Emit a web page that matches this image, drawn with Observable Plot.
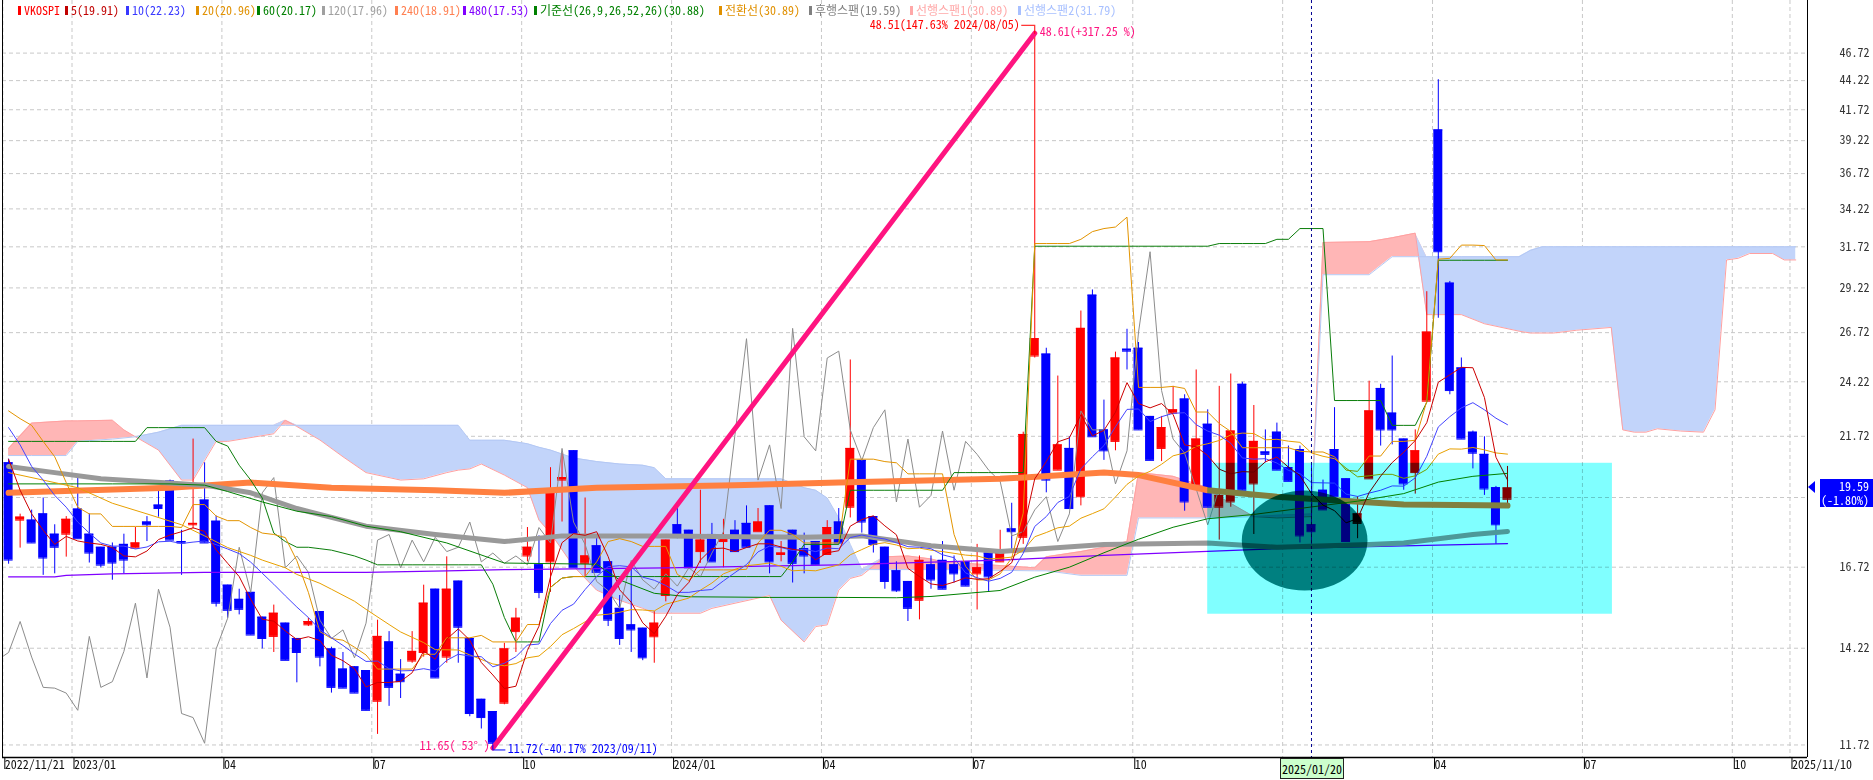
<!DOCTYPE html>
<html><head><meta charset="utf-8">
<script src="https://cdn.jsdelivr.net/npm/d3@7"></script>
<script src="https://cdn.jsdelivr.net/npm/@observablehq/plot@0.6"></script>
<style>
html,body{margin:0;padding:0;background:#fff;}
#wrap{position:relative;width:1873px;height:780px;overflow:hidden;background:#fff;}
#wrap svg{position:absolute;left:0;top:0;}
.nf{font-family:"Noto Sans Mono CJK KR","DejaVu Sans Mono",monospace;}
.lg{position:absolute;top:2px;font-size:12px;line-height:16px;white-space:nowrap;}
.lg i{display:inline-block;width:3px;height:9px;margin-right:3px;vertical-align:0px;}
.box{position:absolute;font-size:12px;line-height:13px;}
</style></head><body><div id="wrap"></div>
<script>
// ---------------- DATA (weekly VKOSPI) ----------------
const startDate = "2022-11-21";   // first weekly candle
const open = [20.6,18.37,18.37,18.6,17.86,17.86,18.78,17.86,17.4,17.4,
17.5,17.37,18.3,18.93,19.86,17.6,18.2,19.12,18.33,16.13,
15.68,15.9,15.13,14.56,14.95,14.5,14.9,15.3,14.2,13.64,
13.7,13.6,12.79,14.4,13.5,13.86,14.1,16.0,13.97,16.26,
14.5,12.84,12.53,12.74,14.7,17.1,16.8,16.9,19.9,21.1,
16.85,17.45,16.9,15.4,14.9,14.8,14.55,15.8,18.2,18.0,
17.25,17.85,17.6,18.0,18.25,17.95,18.9,17.15,18.0,17.35,
17.6,17.15,18.3,18.85,20.7,18.5,17.4,16.6,16.25,15.65,
16.8,16.95,16.8,16.9,16.5,17.2,16.9,18.05,17.75,25.5,
25.6,20.3,21.2,19.25,28.8,22.0,21.5,25.85,25.9,22.6,
21.2,22.75,23.4,19.7,22.25,18.85,19.05,24.1,19.75,21.05,
21.9,20.4,21.15,18.2,19.5,21.15,19.95,18.25,19.95,23.9,
22.75,21.6,20.2,23.3,40.07,29.5,24.9,21.9,20.95,19.6,
19.15];
const high = [20.75,18.59,18.74,19.2,18.2,18.5,19.98,18.6,17.4,17.55,
17.86,18.1,18.5,19.6,19.9,18.0,21.6,20.6,18.52,16.13,
16.0,15.9,15.13,15.5,14.95,14.5,15.1,15.3,14.25,14.1,
13.7,13.6,15.04,14.7,13.9,14.7,16.13,16.0,17.07,16.26,
14.5,12.84,12.53,14.36,15.4,18.1,17.8,20.4,21.0,21.1,
19.2,17.8,16.9,15.8,16.8,14.8,15.3,17.65,18.8,18.0,
19.5,18.25,18.4,18.35,18.9,18.8,18.9,17.6,18.0,17.9,
17.6,18.35,18.8,25.3,20.7,18.5,17.4,16.9,16.25,17.1,
17.1,17.6,17.1,16.9,17.5,17.2,18.0,19.0,21.9,48.51,
25.9,24.5,21.7,27.9,29.1,23.35,25.7,26.9,26.2,22.6,
22.6,24.0,23.6,24.8,22.9,24.0,24.6,24.2,23.1,22.0,
22.3,21.3,21.3,20.5,19.9,23.0,19.95,19.25,24.25,24.1,
25.5,21.6,22.0,29.0,44.3,29.6,25.4,21.95,21.7,19.65,
20.45];
const low = [16.82,17.37,17.55,16.45,16.5,17.06,17.7,16.86,16.7,16.29,
16.5,17.37,17.6,18.48,17.65,16.45,18.05,17.55,15.44,15.1,
15.2,14.6,14.2,14.1,13.88,13.27,14.85,13.7,13.0,13.13,
13.0,12.55,11.97,12.66,12.86,13.8,13.97,13.4,13.8,13.8,
12.4,12.1,11.72,12.7,14.1,16.9,15.7,15.9,18.3,16.7,
16.4,16.55,14.85,14.3,14.1,13.87,13.8,15.6,17.7,16.7,
16.85,16.9,16.7,17.25,17.4,17.95,16.5,16.9,16.2,16.5,
16.8,17.15,17.55,18.45,17.9,17.2,16.0,15.9,15.0,15.05,
16.0,16.0,16.2,16.1,15.35,15.9,16.9,17.3,17.5,25.4,
19.4,20.3,18.8,18.9,21.7,20.7,21.1,24.8,22.0,20.7,
20.65,22.75,18.7,19.7,18.85,17.65,18.85,19.5,17.85,20.6,
20.3,19.85,17.55,17.5,18.75,19.25,17.6,17.7,19.95,21.3,
21.35,19.5,19.35,23.3,27.5,23.6,21.6,20.35,19.3,17.5,
18.9];
const close = [16.96,18.48,17.55,17.03,17.4,18.4,17.7,17.2,16.79,16.86,
16.96,17.55,18.2,18.8,17.65,17.55,18.25,17.55,15.56,15.34,
15.37,14.6,14.5,15.25,13.88,14.1,15.0,13.97,13.15,13.13,
13.0,12.56,14.56,13.15,13.3,14.13,15.56,13.4,16.0,14.83,
12.48,12.38,11.76,14.2,15.1,17.4,15.9,19.4,20.0,16.7,
17.1,16.55,15.04,14.5,14.75,13.95,14.95,17.65,17.85,16.7,
17.65,16.9,17.75,17.25,17.4,18.3,16.9,17.2,16.85,17.1,
16.8,18.1,17.55,21.2,18.3,17.5,16.25,15.95,15.4,16.95,
16.3,16.0,16.5,16.1,16.7,16.4,17.2,17.95,21.8,26.4,
19.9,21.35,18.8,26.95,21.7,21.1,25.4,25.75,22.0,20.7,
22.1,22.9,19.05,21.6,18.85,19.3,21.95,19.5,21.5,20.95,
20.3,19.85,17.8,17.95,18.75,19.25,17.6,18.6,22.85,22.0,
22.0,19.75,21.1,26.75,31.41,23.8,21.6,21.0,19.55,18.2,
19.59];

// moving averages, one value per week
const ma5 = [20.75,19.5,18.6,18.0,17.5,17.78,17.62,17.55,17.5,17.39,
17.1,17.07,17.27,17.67,17.83,17.95,18.09,17.96,17.31,16.85,
16.41,15.68,15.07,15.01,14.72,14.47,14.55,14.44,14.02,13.87,
13.65,13.16,13.28,13.28,13.31,13.54,14.14,13.91,14.48,14.78,
14.45,13.82,13.48,13.12,13.18,14.16,14.86,16.4,17.56,17.88,
17.82,17.95,17.08,15.98,15.59,14.96,14.64,15.16,15.83,16.22,
16.96,17.35,17.37,17.25,17.39,17.52,17.52,17.41,17.33,17.27,
16.97,17.21,17.28,18.15,18.39,18.53,18.16,17.84,16.68,16.41,
16.17,16.12,16.23,16.37,16.32,16.34,16.58,16.87,18.01,19.95,
20.65,21.48,21.65,22.68,21.74,21.98,22.79,24.18,23.19,22.99,
23.19,22.69,21.35,21.27,20.9,20.34,20.15,20.24,20.22,20.64,
20.84,20.42,20.08,19.37,18.93,18.72,18.27,18.43,19.41,20.06,
20.61,21.04,21.54,22.32,24.2,24.56,24.93,24.91,23.47,20.83,
19.91];
const ma10 = [22.1,21.35,20.45,19.9,19.3,18.85,18.3,17.9,17.55,17.44,
17.44,17.34,17.41,17.59,17.61,17.53,17.58,17.62,17.49,17.34,
17.18,16.89,16.52,16.16,15.79,15.44,15.12,14.76,14.52,14.3,
14.06,13.85,13.86,13.65,13.59,13.6,13.65,13.59,13.88,14.05,
14.0,13.98,13.7,13.8,13.98,14.31,14.34,14.94,15.34,15.53,
15.99,16.41,16.74,16.77,16.73,16.39,16.29,16.12,15.9,15.9,
15.96,15.99,16.27,16.54,16.81,17.24,17.44,17.39,17.29,17.33,
17.25,17.37,17.35,17.74,17.83,17.75,17.69,17.56,17.42,17.4,
17.35,17.14,17.04,16.53,16.37,16.26,16.35,16.55,17.19,18.14,
18.5,19.03,19.26,20.35,20.85,21.32,22.14,22.92,22.94,22.37,
22.59,22.74,22.77,22.23,21.95,21.77,21.42,20.8,20.75,20.77,
20.59,20.29,20.16,19.8,19.79,19.78,19.35,19.26,19.39,19.5,
19.67,19.66,19.99,20.87,22.13,22.59,22.99,23.23,22.9,22.52,
22.23];
// [week index, value] readings
const ma20 = [[0,20.2],[3,19.9],[6,19.6],[9,19.0],[12,18.6],[15,18.2],[17,17.8],[19,17.39],[21,17.12],[22,16.96],[24,16.7],[25,16.48],[27,16.19],[28,16.0],[30,15.62],[31,15.37],[33,14.91],[34,14.69],[36,14.38],[37,14.18],[39,14.17],[40,14.03],[42,13.78],[43,13.73],[44,13.79],[45,13.95],[46,14.0],[47,14.27],[48,14.61],[49,14.79],[50,14.99],[51,15.19],[52,15.22],[53,15.28],[54,15.36],[55,15.35],[56,15.32],[57,15.53],[58,15.62],[59,15.72],[60,15.97],[61,16.2],[62,16.5],[63,16.65],[64,16.77],[65,16.81],[66,16.86],[67,16.75],[68,16.6],[69,16.62],[70,16.6],[72,16.8],[73,17.14],[74,17.32],[75,17.5],[76,17.56],[77,17.48],[78,17.35],[79,17.37],[80,17.3],[81,17.25],[82,17.19],[83,17.13],[84,17.1],[85,17.0],[86,17.02],[87,17.06],[88,17.3],[89,17.77],[90,17.92],[91,18.09],[92,18.15],[93,18.44],[94,18.61],[95,18.79],[96,19.24],[97,19.73],[98,20.06],[99,20.25],[100,20.54],[101,20.89],[102,21.01],[103,21.29],[104,21.4],[105,21.54],[106,21.78],[107,21.86],[108,21.84],[109,21.57],[110,21.59],[111,21.51],[112,21.46],[113,21.01],[114,20.87],[115,20.77],[116,20.38],[117,20.03],[118,20.07],[119,20.13],[120,20.13],[121,19.97],[122,20.07],[123,20.33],[124,20.96],[125,21.18],[126,21.17],[127,21.24],[128,21.14],[129,21.01],[130,20.96]];
const ma60 = [[0,19.75],[9,19.75],[14,19.75],[17,19.7],[19,19.45],[22,19.05],[25,18.7],[28,18.5],[31,18.15],[34,17.95],[38,17.55],[43,16.86],[51,16.82],[53,16.3],[56,15.87],[59,15.76],[63,15.75],[66,15.74],[72,15.74],[77,15.73],[80,15.77],[86,15.96],[89,16.39],[92,16.72],[95,17.21],[98,17.68],[101,18.11],[104,18.42],[108,18.58],[113,18.86],[117,19.08],[121,19.37],[124,19.82],[127,20.05],[130,20.17]];
const ma120 = [[0,20.45],[4,20.2],[8,19.95],[17,19.7],[21,19.4],[25,18.8],[31,18.15],[37,17.85],[43,17.6],[48,17.8],[57,17.8],[69,17.75],[74,17.8],[80,17.45],[86,17.25],[95,17.5],[104,17.55],[110,17.4],[118,17.5],[121,17.55],[124,17.7],[127,17.85],[130,17.96]];
const ma240 = [[0,19.4],[14,19.6],[21,19.8],[28,19.6],[37,19.5],[43,19.4],[51,19.6],[63,19.7],[72,19.8],[86,19.95],[95,20.2],[98,20.1],[104,19.5],[110,19.25],[121,18.95],[130,18.91]];
const ma480 = [[0,16.4],[4,16.4],[5,16.45],[9,16.5],[17,16.55],[31,16.55],[38,16.6],[43,16.64],[57,16.7],[72,16.8],[86,16.96],[95,17.12],[110,17.35],[121,17.45],[130,17.53]];
// Ichimoku: 기준선 (base line) and 전환선 (conversion line), one value per week
const kijun = [21.5,21.5,21.5,21.5,21.5,21.5,21.5,21.5,21.5,21.5,
21.5,21.5,22.1,22.1,22.1,22.1,22.1,22.1,21.5,21.3,
20.5,19.9,19.2,17.9,17.6,17.4,17.4,17.35,17.3,17.2,
17.1,16.96,16.8,16.8,16.8,16.8,16.8,16.8,16.8,16.8,
16.8,16.8,16.16,15.12,14.4,14.4,14.4,16.06,16.36,16.41,
16.41,16.41,16.41,16.41,16.41,16.41,16.41,16.41,16.41,16.41,
16.41,16.41,16.41,16.41,16.41,16.41,16.41,16.41,16.9,17.5,
17.5,17.5,17.5,19.5,19.5,19.5,19.5,19.5,19.5,19.5,
19.5,19.5,20.2,20.2,20.2,20.2,20.2,20.2,20.2,31.76,
31.76,31.76,31.76,31.76,31.76,31.76,31.76,31.76,31.76,31.76,
31.76,31.76,31.76,31.76,31.76,31.93,31.93,31.93,31.93,31.93,
32.2,32.2,32.9,32.9,32.9,23.33,23.33,23.33,23.33,23.33,
22.2,22.2,22.2,23.25,30.88,30.88,30.88,30.88,30.88,30.88,
30.88];
const tenkan = [22.85,22.5,22.2,21.5,20.85,19.8,18.85,18.6,18.6,18.14,
18.14,18.14,18.14,18.14,18.14,18.1,18.95,18.95,18.52,18.35,
18.35,18.1,17.9,17.85,17.74,16.94,15.9,14.7,14.5,14.45,
14.25,14.03,13.64,13.64,13.64,13.64,14.05,14.05,14.52,14.52,
14.52,14.59,14.4,14.4,14.4,14.91,14.91,16.06,16.36,16.41,
16.41,16.9,17.6,17.7,17.6,17.43,17.43,17.43,16.48,16.28,
16.63,16.63,16.63,16.63,16.65,17.55,18.0,18.0,17.85,17.55,
17.55,17.55,17.55,20.75,20.75,20.75,20.65,20.6,20.15,20.15,
20.15,20.15,17.85,16.75,16.3,16.3,16.5,17.03,18.63,31.93,
31.93,31.93,31.93,32.2,32.7,32.9,33.0,33.66,23.95,23.95,
23.95,24.0,23.9,22.8,22.8,22.28,21.93,21.23,21.23,21.23,
21.23,21.23,21.08,21.05,21.05,20.85,20.3,20.25,20.88,20.88,
21.5,21.5,21.55,23.3,30.95,31.0,31.83,31.83,31.8,30.9,
30.9];
const laggingShift = 25;   // 후행스팬 is the close drawn this many weeks back
// cloud: [week index, 선행스팬1, 선행스팬2]
const cloud = [[0,21.2,20.9],[2,22.3,20.9],[5,22.4,20.9],[6,22.4,21.5],[9,22.43,21.6],[10,22.0,21.65],[11,21.7,21.7],[13,21.13,21.9],[15,19.9,22.2],[16,19.9,22.2],[18,21.5,22.2],[19,21.5,22.2],[23,21.83,22.2],[24,22.43,22.2],[25,22.15,22.2],[27,21.56,22.2],[29,20.85,22.2],[31,20.2,22.2],[34,19.9,22.2],[36,19.95,22.2],[38,20.2,22.2],[39,20.3,22.2],[40,20.35,21.55],[41,20.55,21.55],[43,20.1,21.55],[45,19.6,21.4],[46,18.37,21.25],[47,17.9,21.13],[49,16.75,20.8],[51,15.97,20.65],[53,15.65,20.55],[55,15.4,20.5],[56,15.25,20.4],[57,15.25,19.95],[60,15.25,19.95],[61,15.4,19.95],[66,15.8,19.95],[67,15.04,19.95],[69,14.4,19.6],[70,14.85,19.5],[71,14.9,19.2],[72,15.97,18.45],[73,16.35,17.5],[74,16.45,16.64],[76,17.07,16.64],[78,17.1,16.64],[80,17.0,16.64],[81,16.9,16.64],[89,16.7,16.6],[90,17.07,16.6],[93,17.25,16.45],[95,17.4,16.45],[97,17.6,16.45],[98,20.2,18.45],[101,20.05,18.45],[104,19.6,18.45],[105,19.25,18.45],[108,18.5,18.5],[110,18.45,18.55],[113,18.5,18.6],[114,32.0,30.0],[118,32.05,30.0],[120,32.3,31.1],[122,32.6,31.1],[123,27.7,31.1],[126,27.7,31.1],[128,27.2,31.1],[131,26.8,31.1],[132,26.7,31.5],[133,26.7,31.72],[134,26.7,31.72],[136,26.85,31.72],[139,27.0,31.72],[140,22.0,31.72],[141,21.9,31.72],[142,21.9,31.72],[143,22.05,31.72],[145,21.95,31.72],[147,21.9,31.72],[148,22.9,31.72],[149,30.9,31.72],[150,31.0,31.72],[151,31.3,31.72],[153,31.3,31.72],[154,30.9,31.72],[155,30.9,31.72]];
// drawn annotations
const trendLine = [[42,11.65],[89,48.61]];
const highMark = {i: 89, v: 48.51};
const lowMark = {i: 42, v: 11.72};
const highLabel = "48.51(147.63% 2024/08/05)";
const trendTopLabel = "48.61(+317.25 %)";
const trendBottomLabel = "11.65( 53° )";
const lowLabel = "11.72(-40.17% 2023/09/11)";
const highlightBox = {i1: 104.0, i2: 139.1, v1: 15.22, v2: 20.58};
const ellipseBox = {i1: 107.0, i2: 117.9, v1: 15.94, v2: 19.47};
const crosshairWeek = 113;
const crosshairLabel = "2025/01/20";
const lastPrice = 19.59, lastChange = "(-1.80%)";
// axes (19.22 and 2025/01 are hidden behind the price / date boxes)
const yTicks = [11.72,14.22,16.72,19.22,21.72,24.22,26.72,29.22,31.72,34.22,36.72,39.22,41.72,44.22,46.72];
const yHidden = [19.22];
const xTickWeeks = [0,6,19,32,45,58,71,84,98,111,124,137,150,155];
const xTickLabels = ["2022/11/21","2023/01","04","07","10","2024/01","04","07","10","","04","07","10","2025/11/10"];
// legend
const legendLabels = ["VKOSPI","5(19.91)","10(22.23)","20(20.96)","60(20.17)","120(17.96)","240(18.91)","480(17.53)","기준선(26,9,26,52,26)(30.88)","전환선(30.89)","후행스팬(19.59)","선행스팬1(30.89)","선행스팬2(31.79)"];
const legendColors = ["#FF0000","#C00000","#3838FF","#E09000","#008000","#A0A0A0","#FF7F50","#8000FF","#008000","#E09000","#808080","#FFA8A8","#A8C0FF"];

// ---------------- LAYOUT ----------------
const W = 1873, H = 780, ML = 2, MR = 66, MT = 0, MB = 23;
const WEEK = 7 * 864e5;
const base = Date.parse(startDate + "T00:00:00Z");
const wd = i => new Date(base + i * WEEK);
const FONT = '"Noto Sans Mono CJK KR","DejaVu Sans Mono",monospace';

const candles = close.map((c, i) => ({date: wd(i), i, o: open[i], h: high[i], l: low[i], c}));
const colorOf = d => d.c >= d.o ? "#FF0000" : "#0000FF";
const half = 0.39;
const pairs = a => a.map(([i, v]) => ({date: wd(i), v}));
const series = a => a.map((v, i) => ({date: wd(i), v}));
const lagging = close.map((v, i) => ({date: wd(i - laggingShift), v}));
const cloudRows = cloud.map(([i, s1, s2]) => ({date: wd(i), s1, s2, top: Math.max(s1, s2)}));

const tickDates = xTickWeeks.map(i => wd(i - 0.5));
const tickLabelOf = new Map(tickDates.map((d, k) => [+d, xTickLabels[k]]));
const xDomain = [wd(-0.529), wd(156.02)];
const yDomain = [11.43, 51.9];

const line = (data, stroke, strokeWidth = 1) => Plot.line(data, {x: "date", y: "v", stroke, strokeWidth, clip: true});

const chart = Plot.plot({
  width: W, height: H, marginLeft: ML, marginRight: MR, marginTop: MT, marginBottom: MB,
  x: {type: "utc", domain: xDomain},
  y: {type: "log", domain: yDomain},
  color: {type: "identity"},
  style: {fontFamily: FONT, fontSize: "12px", background: "transparent", overflow: "visible"},
  marks: [
    Plot.gridY(yTicks, {stroke: "#c8c8c8", strokeOpacity: 1, strokeDasharray: "4,3"}),
    Plot.gridX(tickDates, {stroke: "#c8c8c8", strokeOpacity: 1, strokeDasharray: "4,3"}),
    // cloud
    Plot.areaY(cloudRows, {x: "date", y1: "s2", y2: "top", fill: "#FFB6B6", clip: true}),
    Plot.areaY(cloudRows, {x: "date", y1: "s1", y2: "top", fill: "#C2D4FA", clip: true}),
    Plot.line(cloudRows, {x: "date", y: "s1", stroke: "#FFA0A0", strokeWidth: 1, clip: true}),
    Plot.line(cloudRows, {x: "date", y: "s2", stroke: "#B4C8F4", strokeWidth: 1, clip: true}),
    // candles
    Plot.ruleX(candles, {x: "date", y1: "l", y2: "h", stroke: colorOf, strokeWidth: 1}),
    Plot.rect(candles, {x1: d => new Date(+d.date - half * WEEK), x2: d => new Date(+d.date + half * WEEK), y1: "o", y2: "c", fill: colorOf}),
    Plot.ruleY(candles, {y: "o", x1: d => new Date(+d.date - half * WEEK), x2: d => new Date(+d.date + half * WEEK), stroke: colorOf}),
    Plot.ruleY(candles, {y: "c", x1: d => new Date(+d.date - half * WEEK), x2: d => new Date(+d.date + half * WEEK), stroke: colorOf}),
    // indicator lines
    line(lagging, "#8C8C8C", 1),
    line(pairs(ma480), "#8000FF", 1.3),
    line(pairs(ma240), "#FF8040", 6),
    line(pairs(ma120), "#999999", 5),
    line(pairs(ma60), "#008000", 1),
    line(series(kijun), "#0A7D0A", 1),
    line(pairs(ma20), "#E8A000", 1),
    line(series(tenkan), "#E39400", 1),
    line(series(ma10), "#4444FF", 1),
    line(series(ma5), "#CC0000", 1),
    // trend line
    Plot.line(trendLine, {x: d => wd(d[0]), y: d => d[1], stroke: "#FF1480", strokeWidth: 5}),
    // highlight rect (multiply)
    Plot.rect([highlightBox], {x1: d => wd(d.i1), x2: d => wd(d.i2), y1: "v1", y2: "v2", fill: "#80FFFF", mixBlendMode: "multiply", ariaLabel: "hlbox"}),
    // crosshair
    Plot.ruleX([wd(crosshairWeek)], {stroke: "#000090", strokeDasharray: "3,3", strokeWidth: 1, ariaLabel: "crosshair"}),
    // annotations
    Plot.ruleX([highMark], {x: d => wd(d.i), y1: "v", y2: "v", insetTop: -9, stroke: "#FF0000"}),
    Plot.ruleY([highMark], {y: "v", x1: d => wd(d.i), x2: d => wd(d.i), insetLeft: -13, dy: -9, stroke: "#FF0000"}),
    Plot.text([highMark], {x: d => wd(d.i), y: "v", text: () => highLabel, textAnchor: "end", dx: -15, dy: -9, fill: "#FF0000", fontSize: 12}),
    Plot.text([trendLine[1]], {x: d => wd(d[0]), y: d => d[1], text: () => trendTopLabel, textAnchor: "start", dx: 5, dy: -1, fill: "#FF1480", fontSize: 12}),
    Plot.text([trendLine[0]], {x: d => wd(d[0]), y: d => d[1], text: () => trendBottomLabel, textAnchor: "end", dx: -3, dy: -2, fill: "#FF1480", fontSize: 12}),
    Plot.ruleX([lowMark], {x: d => wd(d.i), y1: "v", y2: "v", insetBottom: -5, stroke: "#0000FF"}),
    Plot.ruleY([lowMark], {y: "v", x1: d => wd(d.i), x2: d => wd(d.i), insetRight: -13, dy: 5, stroke: "#0000FF"}),
    Plot.text([lowMark], {x: d => wd(d.i), y: "v", text: () => lowLabel, textAnchor: "start", dx: 15, dy: 4, fill: "#0000FF", fontSize: 12}),
    // axes & frame
    Plot.axisY(yTicks, {anchor: "right", tickSize: 0, tickPadding: 32, tickFormat: d => yHidden.includes(d) ? "" : d.toFixed(2), fill: "#333", fontSize: 12, label: null}),
    Plot.axisX(tickDates, {anchor: "bottom", tickSize: 12, tickPadding: -9, textAnchor: "start", dx: 2, tickFormat: d => tickLabelOf.get(+d), fill: "#111", fontSize: 12, label: null}),
    Plot.ruleX([xDomain[1]], {stroke: "#000"}),
    Plot.ruleX([xDomain[0]], {stroke: "#000"}),
    Plot.ruleY([yDomain[0]], {stroke: "#000", strokeWidth: 1.5})
  ]
});
const xs = chart.scale("x"), ys = chart.scale("y");
const svg = chart.tagName.toLowerCase() === "svg" ? chart : chart.querySelector("svg");
const hl = svg.querySelector('[aria-label="hlbox"]');
if (hl) hl.style.mixBlendMode = "multiply";

// ellipse, placed with the chart's own scales, blended like the rectangle
const SVGNS = "http://www.w3.org/2000/svg";
const ex1 = xs.apply(wd(ellipseBox.i1)), ex2 = xs.apply(wd(ellipseBox.i2));
const ey1 = ys.apply(ellipseBox.v2), ey2 = ys.apply(ellipseBox.v1);
const ell = document.createElementNS(SVGNS, "ellipse");
ell.setAttribute("cx", (ex1 + ex2) / 2);
ell.setAttribute("cy", (ey1 + ey2) / 2);
ell.setAttribute("rx", (ex2 - ex1) / 2);
ell.setAttribute("ry", (ey2 - ey1) / 2);
ell.setAttribute("fill", "#008080");
ell.style.mixBlendMode = "multiply";
if (hl) hl.after(ell); else svg.appendChild(ell);

const wrap = document.getElementById("wrap");
wrap.appendChild(chart);

// legend (inside top of plot)
const legendX = [18,65,126,196,257,322,395,463,534,719,809,910,1018];
legendLabels.forEach((t, k) => {
  const el = document.createElement("div");
  el.className = "lg nf";
  el.style.left = legendX[k] + "px";
  el.style.color = legendColors[k];
  el.innerHTML = `<i style="background:${legendColors[k]}"></i>${t}`;
  wrap.appendChild(el);
});

// crosshair date box on the x axis
const cx = xs.apply(wd(crosshairWeek));
const cb = document.createElement("div");
cb.className = "box nf";
Object.assign(cb.style, {left: (cx - 31) + "px", top: "758px", width: "62px", height: "19px", background: "#CCFFCC", border: "1px solid #222", textAlign: "center", lineHeight: "19px", color: "#000"});
cb.textContent = crosshairLabel;
wrap.appendChild(cb);

// current price box on the y axis
const py = ys.apply(lastPrice);
const pb = document.createElement("div");
pb.className = "box nf";
Object.assign(pb.style, {left: "1820px", top: (py - 8) + "px", width: "49px", height: "28px", background: "#0000FF", color: "#fff", textAlign: "right", paddingRight: "4px", lineHeight: "13.5px"});
pb.innerHTML = `${lastPrice.toFixed(2)}<br>${lastChange}`;
wrap.appendChild(pb);
const tri = document.createElement("div");
Object.assign(tri.style, {position: "absolute", left: "1808px", top: (py - 6) + "px", width: 0, height: 0, borderTop: "6px solid transparent", borderBottom: "6px solid transparent", borderRight: "7px solid #0000FF"});
wrap.appendChild(tri);
</script></body></html>
